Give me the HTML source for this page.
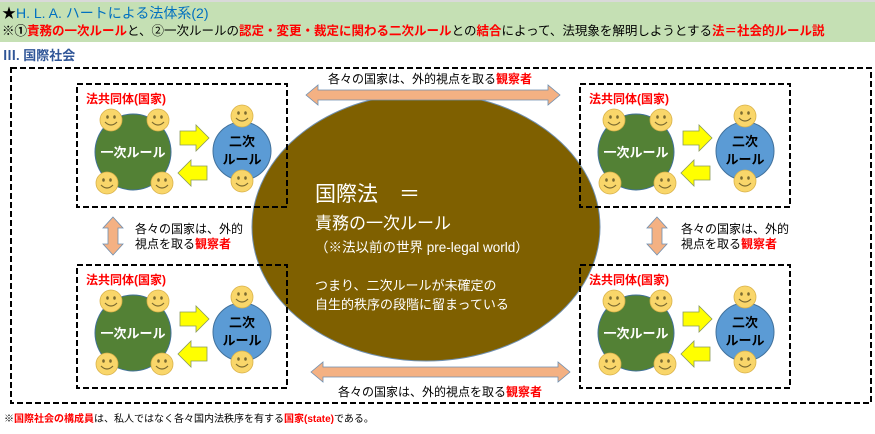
<!DOCTYPE html>
<html><head><meta charset="utf-8"><style>
body{margin:0;width:875px;height:429px;overflow:hidden;background:#fff;font-family:"Liberation Sans","Noto Sans CJK JP",sans-serif;}
svg text{font-family:"Liberation Sans","Noto Sans CJK JP",sans-serif;}
</style></head><body>
<svg width="875" height="429" viewBox="0 0 875 429" xmlns="http://www.w3.org/2000/svg">
<defs>
<g id="smile">
<circle r="11" fill="#f9d66a" stroke="#d9b24a" stroke-width="0.8"/>
<ellipse cx="-3.5" cy="-3" rx="1.3" ry="1.8" fill="#7a6a30"/>
<ellipse cx="3.5" cy="-3" rx="1.3" ry="1.8" fill="#7a6a30"/>
<path d="M-6 2 Q0 8 6 2" stroke="#7a6a30" stroke-width="1.2" fill="none"/>
</g>
<g id="state">
<rect x="0" y="0" width="210" height="123" fill="none" stroke="#000" stroke-width="2" stroke-dasharray="6,3"/>
<text x="9" y="19" font-size="12" font-weight="bold" fill="#ff0000">法共同体(国家)</text>
<circle cx="56" cy="68" r="38" fill="#538135" stroke="#41719c" stroke-width="1"/>
<text x="56" y="73" font-size="13" font-weight="bold" fill="#fff" text-anchor="middle">一次ルール</text>
<circle cx="165" cy="67" r="29" fill="#5b9bd5" stroke="#41719c" stroke-width="1"/>
<text x="165" y="62" font-size="13" font-weight="bold" fill="#000" text-anchor="middle">二次</text>
<text x="165" y="80" font-size="13" font-weight="bold" fill="#000" text-anchor="middle">ルール</text>
<path d="M103 47 h16 v-6 l13 13 l-13 13 v-6 h-16z" fill="#ffff00" stroke="#8a9a5b" stroke-width="0.8"/>
<path d="M130 82 h-16 v-6 l-13 13 l13 13 v-6 h16z" fill="#ffff00" stroke="#8a9a5b" stroke-width="0.8"/>
<use href="#smile" x="34" y="36"/>
<use href="#smile" x="81" y="36"/>
<use href="#smile" x="30" y="99"/>
<use href="#smile" x="85" y="99"/>
<use href="#smile" x="165" y="32"/>
<use href="#smile" x="165" y="97"/>
</g>
<g id="varrow">
<path d="M0 -19 l10 11 h-5 v16 h5 l-10 11 l-10 -11 h5 v-16 h-5z" fill="#f4b183" stroke="#6f8fb0" stroke-width="0.8"/>
</g>
</defs>
<rect x="0" y="0" width="875" height="42" fill="#c5e0b4"/>
<rect x="0" y="0" width="875" height="2" fill="#d9d9d9"/>
<text x="2" y="18" font-size="14" fill="#0070c0"><tspan fill="#000">★</tspan>H. L. A. ハートによる法体系(2)</text>
<text x="2" y="35" font-size="12.5" font-weight="bold" fill="#000">※①<tspan fill="#ff0000">責務の一次ルール</tspan><tspan font-weight="normal">と、②一次ルールの</tspan><tspan fill="#ff0000">認定・変更・裁定に関わる二次ルール</tspan><tspan font-weight="normal">との</tspan><tspan fill="#ff0000">結合</tspan><tspan font-weight="normal">によって、法現象を解明しようとする</tspan><tspan fill="#ff0000">法＝社会的ルール説</tspan></text>
<text x="3" y="60" font-size="13" font-weight="bold" fill="#2f5597">Ⅲ. 国際社会</text>
<rect x="11" y="68" width="860" height="335" fill="none" stroke="#000" stroke-width="2" stroke-dasharray="6,3"/>
<ellipse cx="426" cy="227" rx="174" ry="134" fill="#7f6000" stroke="#6f8fb0" stroke-width="1"/>
<text x="315" y="201" font-size="21" fill="#fff">国際法　＝</text>
<text x="315" y="229" font-size="17" fill="#fff">責務の一次ルール</text>
<text x="315" y="252" font-size="13.5" fill="#fff">（※法以前の世界 pre-legal world）</text>
<text x="315" y="290" font-size="13" fill="#fff">つまり、二次ルールが未確定の</text>
<text x="315" y="309" font-size="13" fill="#fff">自生的秩序の段階に留まっている</text>
<use href="#state" x="77" y="84"/>
<use href="#state" x="77" y="265"/>
<use href="#state" x="580" y="84"/>
<use href="#state" x="580" y="265"/>
<path d="M306 95 l12 -10 v5 h230 v-5 l12 10 l-12 10 v-5 h-230 v5z" fill="#f4b183" stroke="#6f8fb0" stroke-width="0.8"/>
<path d="M311 372 l12 -10 v5 h235 v-5 l12 10 l-12 10 v-5 h-235 v5z" fill="#f4b183" stroke="#6f8fb0" stroke-width="0.8"/>
<text x="430" y="83" font-size="12" fill="#000" text-anchor="middle">各々の国家は、外的視点を取る<tspan fill="#ff0000" font-weight="bold">観察者</tspan></text>
<text x="440" y="396" font-size="12" fill="#000" text-anchor="middle">各々の国家は、外的視点を取る<tspan fill="#ff0000" font-weight="bold">観察者</tspan></text>
<use href="#varrow" x="113" y="236"/>
<use href="#varrow" x="657" y="236"/>
<text x="135" y="233" font-size="12" fill="#000">各々の国家は、外的</text>
<text x="135" y="248" font-size="12" fill="#000">視点を取る<tspan fill="#ff0000" font-weight="bold">観察者</tspan></text>
<text x="681" y="233" font-size="12" fill="#000">各々の国家は、外的</text>
<text x="681" y="248" font-size="12" fill="#000">視点を取る<tspan fill="#ff0000" font-weight="bold">観察者</tspan></text>
<text x="4" y="422" font-size="10" fill="#000">※<tspan fill="#ff0000" font-weight="bold">国際社会の構成員</tspan>は、私人ではなく各々国内法秩序を有する<tspan fill="#ff0000" font-weight="bold">国家(state)</tspan>である。</text>
</svg>
</body></html>
